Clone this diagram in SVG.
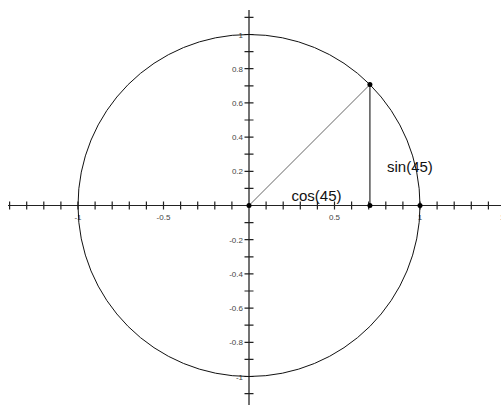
<svg xmlns="http://www.w3.org/2000/svg" width="501" height="405" viewBox="0 0 501 405">
<style>
.axis{stroke:#222;stroke-width:1;fill:none}
.yaxis{stroke:#444;stroke-width:1.5;fill:none}
.tick{stroke:#222;stroke-width:1.2;fill:none}
.lbl{font-family:"Liberation Sans",Arial,sans-serif;font-size:8px;fill:#444}
.xl{text-anchor:middle}
.yl{text-anchor:end}
.big{font-family:"Liberation Sans",Arial,sans-serif;font-size:15px;fill:#111}
.dot{fill:#000}
</style>
<rect width="501" height="405" fill="#fff"/>
<g id="axes">
<line class="axis" x1="8" y1="205.5" x2="501" y2="205.5"/>
<line class="yaxis" x1="249" y1="10" x2="249" y2="405"/>
<path class="tick" d="M9.6 201.5V209.5M26.7 201.5V209.5M43.8 201.5V209.5M60.9 201.5V209.5M78 201.5V209.5M95.1 201.5V209.5M112.2 201.5V209.5M129.3 201.5V209.5M146.4 201.5V209.5M163.5 201.5V209.5M180.6 201.5V209.5M197.7 201.5V209.5M214.8 201.5V209.5M231.9 201.5V209.5M266.1 201.5V209.5M283.2 201.5V209.5M300.3 201.5V209.5M317.4 201.5V209.5M334.5 201.5V209.5M351.6 201.5V209.5M368.7 201.5V209.5M385.8 201.5V209.5M402.9 201.5V209.5M420 201.5V209.5M437.1 201.5V209.5M454.2 201.5V209.5M471.3 201.5V209.5M488.4 201.5V209.5"/>
<path class="tick" d="M244.5 17.4H253.5M244.5 34.5H253.5M244.5 51.6H253.5M244.5 68.7H253.5M244.5 85.8H253.5M244.5 102.9H253.5M244.5 120H253.5M244.5 137.1H253.5M244.5 154.2H253.5M244.5 171.3H253.5M244.5 188.4H253.5M244.5 222.6H253.5M244.5 239.7H253.5M244.5 256.8H253.5M244.5 273.9H253.5M244.5 291H253.5M244.5 308.1H253.5M244.5 325.2H253.5M244.5 342.3H253.5M244.5 359.4H253.5M244.5 376.5H253.5M244.5 393.6H253.5"/>
<g class="lbl xl">
<text x="78" y="219.5">-1</text>
<text x="163.5" y="219.5">-0.5</text>
<text x="334.5" y="219.5">0.5</text>
<text x="420" y="219.5">1</text>
<text x="505.5" y="219.5">1.5</text>
</g>
<g class="lbl yl">
<text x="243" y="37.5">1</text>
<text x="243" y="71.7">0.8</text>
<text x="243" y="105.9">0.6</text>
<text x="243" y="140.1">0.4</text>
<text x="243" y="174.3">0.2</text>
<text x="243" y="242.7">-0.2</text>
<text x="243" y="276.9">-0.4</text>
<text x="243" y="311.1">-0.6</text>
<text x="243" y="345.3">-0.8</text>
<text x="243" y="379.5">-1</text>
</g>
</g>
<g id="unit-circle">
<circle cx="249" cy="205.5" r="171" fill="none" stroke="#111" stroke-width="1"/>
</g>
<g id="connectors">
<line x1="249" y1="205.5" x2="369.9" y2="84.6" stroke="#666" stroke-width="1"/>
<line x1="369.9" y1="84.6" x2="369.9" y2="205.5" stroke="#555" stroke-width="1.5"/>
</g>
<g id="origin"><circle class="dot" cx="249" cy="205.5" r="2.5"/></g>
<g id="point-45"><circle class="dot" cx="369.9" cy="84.6" r="2.5"/></g>
<g id="cos-foot"><circle class="dot" cx="369.9" cy="205.5" r="2.5"/></g>
<g id="point-1"><circle class="dot" cx="420" cy="205.5" r="2.5"/></g>
<g id="labels">
<text class="big" x="291.5" y="200.5">cos(45)</text>
<text class="big" x="387" y="171.5">sin(45)</text>
</g>
</svg>
